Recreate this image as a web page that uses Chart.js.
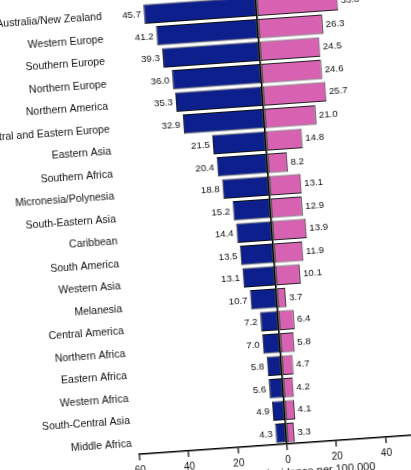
<!DOCTYPE html>
<html>
<head>
<meta charset="utf-8">
<script src="https://cdn.jsdelivr.net/npm/chart.js@4.4.0/dist/chart.umd.min.js"></script>
<style>
  html, body { margin: 0; padding: 0; background: #fff; width: 411px; height: 470px; overflow: hidden; }
  #myChart { position: absolute; left: 0; top: 0; }
</style>
</head>
<body>
<canvas id="myChart" width="540" height="560"></canvas>
<script>
let regions = [
  "Australia/New Zealand",
  "Western Europe",
  "Southern Europe",
  "Northern Europe",
  "Northern America",
  "Central and Eastern Europe",
  "Eastern Asia",
  "Southern Africa",
  "Micronesia/Polynesia",
  "South-Eastern Asia",
  "Caribbean",
  "South America",
  "Western Asia",
  "Melanesia",
  "Central America",
  "Northern Africa",
  "Eastern Africa",
  "Western Africa",
  "South-Central Asia",
  "Middle Africa",
];
let navyValues = [45.7, 41.2, 39.3, 36.0, 35.3, 32.9, 21.5, 20.4, 18.8, 15.2, 14.4, 13.5, 13.1, 10.7, 7.2, 7.0, 5.8, 5.6, 4.9, 4.3];
let pinkValues = [33.0, 26.3, 24.5, 24.6, 25.7, 21.0, 14.8, 8.2, 13.1, 12.9, 13.9, 11.9, 10.1, 3.7, 6.4, 5.8, 4.7, 4.2, 4.1, 3.3];
let xMin = -60;
let xMax = 60;
let xStep = 20;
let axisTitle = "Incidence per 100,000";

// where the zero line meets the axis in the photo, and the tilt of the photo
let zeroAt = { x: 287, y: 444 };
let tilt = -4;

Chart.defaults.font.family = "'Liberation Sans', Arial, Helvetica, sans-serif";
Chart.defaults.color = "#111";

let valueLabels = {
  id: "valueLabels",
  afterDatasetsDraw(chart) {
    let ctx = chart.ctx;
    ctx.save();
    ctx.font = "9.7px 'Liberation Sans', Arial, sans-serif";
    ctx.fillStyle = "#111";
    ctx.textBaseline = "middle";
    chart.data.datasets.forEach((ds, i) => {
      chart.getDatasetMeta(i).data.forEach((bar, j) => {
        let v = ds.data[j];
        let left = v < 0;
        ctx.textAlign = left ? "right" : "left";
        ctx.fillText(Math.abs(v).toFixed(1), bar.x + (left ? -3 : 3), bar.y + 0.5);
      });
    });
    ctx.restore();
  },
  afterDraw(chart) {
    let ctx = chart.ctx;
    let xs = chart.scales.x;
    ctx.save();
    ctx.font = "11px 'Liberation Sans', Arial, sans-serif";
    ctx.fillStyle = "#111";
    ctx.textAlign = "center";
    ctx.textBaseline = "middle";
    ctx.fillText(axisTitle, xs.getPixelForValue(13), chart.chartArea.bottom + 29);
    ctx.restore();
  },
};

let canvas = document.getElementById("myChart");
let myChart = new Chart(canvas.getContext("2d"), {
  type: "bar",
  data: {
    labels: regions,
    datasets: [
      {
        label: "Navy",
        data: navyValues.map(v => -v),
        backgroundColor: "#0c1f8c",
        borderColor: "#111",
        borderWidth: 1,
        borderSkipped: false,
      },
      {
        label: "Pink",
        data: pinkValues,
        backgroundColor: "#d862b2",
        borderColor: "#222",
        borderWidth: 1,
        borderSkipped: false,
      },
    ],
  },
  options: {
    indexAxis: "y",
    responsive: false,
    animation: false,
    categoryPercentage: 1,
    barPercentage: 0.86,
    layout: {
      padding: { left: 10, right: 84, top: 20, bottom: 50 },
    },
    plugins: {
      legend: { display: false },
      tooltip: { enabled: false },
    },
    scales: {
      x: {
        stacked: true,
        min: xMin,
        max: xMax,
        z: 1,
        ticks: {
          stepSize: xStep,
          padding: 4,
          font: { size: 10 },
          color: "#111",
          callback: v => Math.abs(v),
        },
        grid: {
          drawTicks: true,
          tickLength: 6,
          tickColor: "#000",
          tickWidth: 1.2,
          color: c => (c.tick && c.tick.value === 0 ? "#000" : "rgba(0,0,0,0)"),
          lineWidth: c => (c.tick && c.tick.value === 0 ? 1.6 : 0),
        },
        border: { display: true, color: "#000", width: 1.6 },
        afterFit: s => {
          s.height = 40;
          s.paddingLeft = 0;
          s.paddingRight = 0;
        },
      },
      y: {
        stacked: true,
        ticks: { padding: 7, font: { size: 10.5 }, color: "#111", autoSkip: false },
        grid: { display: false, drawTicks: false },
        border: { display: false },
        afterFit: s => {
          s.width = 150;
          s.paddingTop = 0;
          s.paddingBottom = 0;
        },
      },
    },
  },
  plugins: [valueLabels],
});

let px = myChart.scales.x.getPixelForValue(0);
let py = myChart.chartArea.bottom;
canvas.style.transformOrigin = px + "px " + py + "px";
canvas.style.left = (zeroAt.x - px) + "px";
canvas.style.top = (zeroAt.y - py) + "px";
canvas.style.transform = "rotate(" + tilt + "deg)";
</script>
</body>
</html>
